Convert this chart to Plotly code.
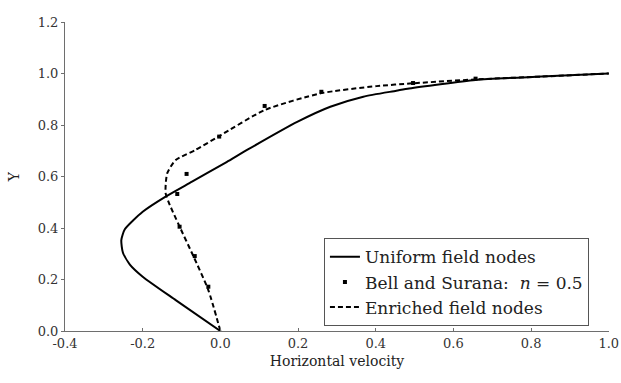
import plotly.graph_objects as go

# Uniform field nodes: horizontal velocity vs Y
uniform_u = [0.0, -0.115, -0.200, -0.233, -0.251, -0.255, -0.246, -0.200, -0.141, -0.073, 0.016,
             0.071, 0.199, 0.283, 0.368, 0.453, 0.486, 0.657, 0.826, 1.0]
uniform_y = [0.0, 0.120, 0.211, 0.258, 0.305, 0.353, 0.395, 0.463, 0.522, 0.580, 0.656,
             0.705, 0.813, 0.871, 0.910, 0.933, 0.942, 0.975, 0.988, 1.0]

# Enriched field nodes
enriched_u = [0.0, -0.031, -0.069, -0.107, -0.132, -0.141, -0.137, -0.115, -0.064, -0.005,
              0.114, 0.258, 0.402, 0.496, 0.657, 0.826, 1.0]
enriched_y = [0.0, 0.159, 0.289, 0.412, 0.496, 0.535, 0.612, 0.664, 0.703, 0.755,
              0.858, 0.923, 0.951, 0.962, 0.977, 0.988, 1.0]

# Bell and Surana reference, n = 0.5
bell_u = [-0.031, -0.066, -0.105, -0.111, -0.087, -0.003, 0.114, 0.260, 0.496, 0.657]
bell_y = [0.172, 0.291, 0.405, 0.532, 0.610, 0.755, 0.874, 0.929, 0.963, 0.980]

x_ticks = [-0.4, -0.2, 0.0, 0.2, 0.4, 0.6, 0.8, 1.0]
y_ticks = [0.0, 0.2, 0.4, 0.6, 0.8, 1.0, 1.2]

SERIF = "DejaVu Serif"

fig = go.Figure()
fig.add_trace(go.Scatter(
    x=uniform_u, y=uniform_y, mode="lines", name="Uniform field nodes",
    line=dict(color="black", width=2, shape="spline", smoothing=0.6),
))
fig.add_trace(go.Scatter(
    x=bell_u, y=bell_y, mode="markers", name="Bell and Surana:  <i>n</i> = 0.5",
    marker=dict(symbol="square", size=4, color="black"),
))
fig.add_trace(go.Scatter(
    x=enriched_u, y=enriched_y, mode="lines", name="Enriched field nodes",
    line=dict(color="black", width=2, dash="5px,3px", shape="spline", smoothing=0.6),
))

axis_common = dict(
    showgrid=False, zeroline=False, showline=True, linecolor="#6e6e6e", linewidth=1,
    tickcolor="#6e6e6e", ticklen=3, tickfont=dict(family=SERIF, size=13, color="#333"),
    ticklabeloverflow="allow", automargin=False,
)

fig.update_layout(
    width=621, height=383,
    margin=dict(l=65, r=12, t=22, b=52),
    paper_bgcolor="white", plot_bgcolor="white",
    font=dict(family=SERIF, color="#222"),
    xaxis=dict(
        range=[-0.4, 1.0005], tickvals=x_ticks, ticktext=[f"{v:.1f}" for v in x_ticks],
        ticks="inside",
        title=dict(text="Horizontal velocity", font=dict(family=SERIF, size=14), standoff=6),
        **axis_common,
    ),
    yaxis=dict(
        range=[0.0, 1.2], tickvals=y_ticks, ticktext=[f"{v:.1f}" for v in y_ticks],
        ticks="outside",
        title=dict(text="Y", font=dict(family=SERIF, size=14), standoff=14),
        **axis_common,
    ),
    legend=dict(
        x=0.476, y=0.30, xanchor="left", yanchor="top",
        bgcolor="white", bordercolor="#555", borderwidth=1,
        font=dict(family=SERIF, size=17, color="#222"),
        tracegroupgap=0, itemwidth=30,
    ),
    showlegend=True,
)

fig.write_html("out.html")
